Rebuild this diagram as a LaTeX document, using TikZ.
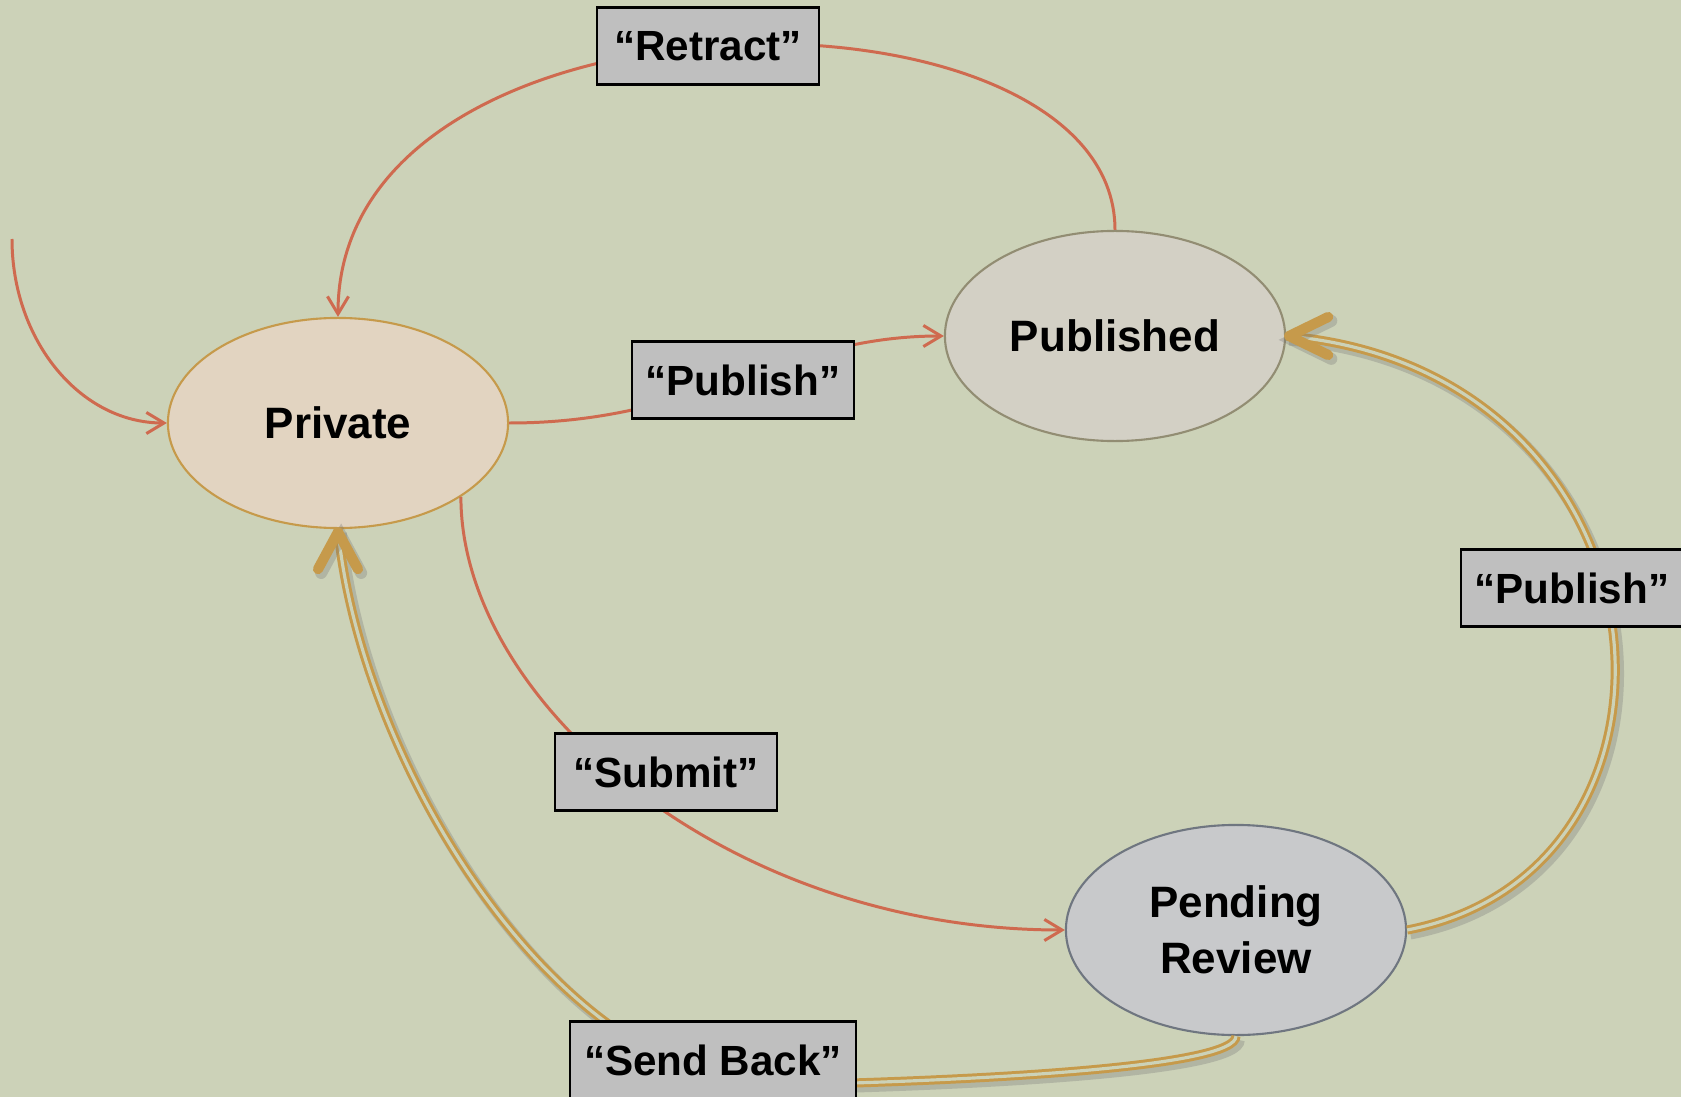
\documentclass[tikz,border=0pt]{standalone}
\usepackage{fontspec}
\setmainfont{Liberation Sans}
\usepackage{tikz}
\usetikzlibrary{arrows.meta,shapes.geometric}

\definecolor{bgsage}{HTML}{CCD2B8}
\definecolor{redarc}{HTML}{CF6A4F}
\definecolor{goldarc}{HTML}{C69A4B}
\definecolor{tagfill}{HTML}{BFBFBF}
\definecolor{privfill}{HTML}{E2D4C1}
\definecolor{pubfill}{HTML}{D3D0C5}
\definecolor{pubdraw}{HTML}{928D73}
\definecolor{pendfill}{HTML}{C8C9CB}
\definecolor{penddraw}{HTML}{6F7680}

\tikzset{
  state/.style={ellipse, minimum width=3.4cm, minimum height=2.1cm, inner sep=0pt,
    line width=0.6pt, align=center, font=\fontsize{12.5}{16}\selectfont\bfseries},
  tag/.style={draw=black, fill=tagfill, line width=0.6pt, minimum width=2.22cm,
    minimum height=0.77cm, inner xsep=0.14cm, font=\fontsize{12}{14}\selectfont\bfseries},
  redarrow/.style={draw=redarc, line width=0.85pt, -{Straight Barb[length=5pt,width=6pt]}},
  goldshade/.style={preaction={draw=black!55, line width=3.2pt, opacity=0.3,
    transform canvas={shift={(0.9pt,-1.1pt)}}}},
  goldarrow/.style={goldshade, draw=goldarc, line width=2.6pt,
    postaction={draw=bgsage, line width=0.9pt}},
  chevron/.style={preaction={draw=black!55, line width=3.4pt, opacity=0.3,
    line cap=round, transform canvas={shift={(0.9pt,-1.1pt)}}},
    draw=goldarc, line width=2.9pt, line cap=round, line join=round}
}

\begin{document}
\begin{tikzpicture}[x=0.01cm, y=-0.01cm]
  \fill[bgsage] (0,0) rectangle (1681,1097);
  \useasboundingbox (0,0) rectangle (1681,1097);

  \node[state, draw=goldarc, fill=privfill] (priv) at (338,423) {Private};
  \node[state, draw=pubdraw, fill=pubfill] (pub) at (1115,336) {Published};
  \node[state, draw=penddraw, fill=pendfill] (pend) at (1236,930) {Pending\\Review};
  \coordinate (init) at (12,239);
  \coordinate (sb) at (780,1085);

  \draw[redarrow] (init) .. controls +(0,101) and +(-87,0) .. (priv.west);
  \draw[redarrow] (pub.north) .. controls +(0,-260) and +(0,-348) .. (priv.north);
  \draw[redarrow] (priv.east) .. controls +(191,0) and +(-163,0) .. (pub.west);
  \draw[redarrow] (priv.-31) .. controls +(0,204) and +(-340,0) .. (pend.west);

  \draw[goldarrow] (pend.east) .. controls +(313,-60) and +(394,34) .. (pub.east);
  \draw[goldarrow] (pend.south) .. controls +(0,30) and +(220,-5) .. (sb)
    .. controls +(-220,5) and +(22,233) .. (priv.south);
  \draw[chevron] ([shift={(42,-19)}]pub.east) -- ([shift={(3,0)}]pub.east) -- ([shift={(42,19)}]pub.east);
  \draw[chevron] ([shift={(-20,40)}]priv.south) -- ([shift={(0,3)}]priv.south) -- ([shift={(20,40)}]priv.south);

  \node[tag] (retract) at (708,46) {“Retract”};
  \node[tag] (publishA) at (743,380) {“Publish”};
  \node[tag] (publishB) at (1572,588) {“Publish”};
  \node[tag] (submit) at (666,772) {“Submit”};
  \node[tag] (sendback) at (713,1060) {“Send Back”};
\end{tikzpicture}
\end{document}
